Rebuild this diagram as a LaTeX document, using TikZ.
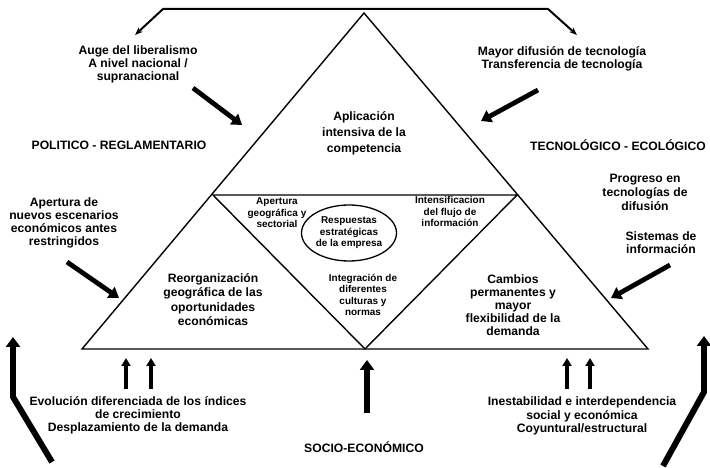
\documentclass[tikz,border=0pt]{standalone}
\usepackage{fontspec}
\setmainfont{Liberation Sans}
\usetikzlibrary{arrows.meta,shapes.geometric}

\tikzset{
  lbl/.style={font=\bfseries\fontsize{12.2}{13.2}\selectfont, align=center, inner sep=0pt},
  heading/.style={font=\bfseries\fontsize{12.2}{13}\selectfont, inner sep=0pt},
  smalllbl/.style={font=\bfseries\fontsize{10}{11.5}\selectfont, align=center, inner sep=0pt},
  tri/.style={line width=1.4pt, line join=miter},
  fat/.style={line width=4.8pt, -{Triangle[length=10pt,width=13pt]}},
  slim/.style={line width=3.5pt, -{Triangle[length=8pt,width=9pt]}},
  bigarrow/.style={line width=6pt, line join=miter, -{Triangle[length=10pt,width=14pt]}},
  link/.style={line width=2pt, {Stealth[length=8pt,width=6pt]}-{Stealth[length=8pt,width=6pt]}}
}

\begin{document}
\begin{tikzpicture}[x=1bp,y=-1bp]
\useasboundingbox (0,0) rectangle (710,468);

% triangles
\coordinate (A) at (364,13);
\coordinate (BL) at (82,349);
\coordinate (BR) at (648,349);
\coordinate (IL) at (213,195);
\coordinate (IR) at (517,195);
\coordinate (IB) at (365,349);
\draw[tri] (A) -- (BL) -- (BR) -- cycle;
\draw[tri] (IL) -- (IR) -- (IB) -- cycle;

% top link
\coordinate (TL) at (135,35);
\coordinate (T1) at (163,9);
\coordinate (T2) at (548,9);
\coordinate (TR) at (577,35);
\draw[link] (TL) -- (T1) -- (T2) -- (TR);

% outer labels
\node[lbl] (auge) at (138,64.5) {Auge del liberalismo\\A nivel nacional /\\supranacional};
\node[lbl] (mayor) at (562,59) {Mayor difusión de tecnología\\Transferencia de tecnología};
\node[heading] (politico) at (119,145) {POLITICO - REGLAMENTARIO};
\node[heading] (tecno) at (618,145) {TECNOLÓGICO - ECOLÓGICO};
\node[lbl] (apertura) at (64,223) {Apertura de\\nuevos escenarios\\económicos antes\\restringidos};
\node[lbl, font=\bfseries\fontsize{12.2}{14}\selectfont] (progreso) at (645,192) {Progreso en\\tecnologías de\\difusión};
\node[lbl] (sistemas) at (661,243) {Sistemas de\\información};
\node[lbl] (evol) at (138,415) {Evolución diferenciada de los índices\\de crecimiento\\Desplazamiento de la demanda};
\node[lbl] (inest) at (582,416) {Inestabilidad e interdependencia\\social y económica\\Coyuntural/estructural};
\node[heading] (socio) at (364,447) {SOCIO-ECONÓMICO};

% triangle labels
\node[lbl, font=\bfseries\fontsize{12.2}{16}\selectfont] (aplic) at (364,133) {Aplicación\\intensiva de la\\competencia};
\node[lbl, font=\bfseries\fontsize{12.2}{14.3}\selectfont] (reorg) at (213,299.5) {Reorganización\\geográfica de las\\oportunidades\\económicas};
\node[lbl] (cambios) at (513,305) {Cambios\\permanentes y\\mayor\\flexibilidad de la\\demanda};
\node[smalllbl] (geog) at (277,213) {Apertura\\geográfica y\\sectorial};
\node[smalllbl] (intens) at (450,211.5) {Intensificacion\\del flujo de\\información};
\node[smalllbl, font=\bfseries\fontsize{10}{11.3}\selectfont] (integ) at (363,295) {Integración de\\diferentes\\culturas y\\normas};
\node[smalllbl, draw, line width=1.3pt, ellipse, inner sep=-4pt, minimum width=95bp, minimum height=56bp] (resp) at (349,233) {Respuestas\\estratégicas\\de la empresa};

% arrows towards the triangle
\coordinate (a1s) at (193,88);   \coordinate (a1e) at (242,125);
\coordinate (a2s) at (538,90);   \coordinate (a2e) at (481,121);
\coordinate (a3s) at (67,262);   \coordinate (a3e) at (119,298);
\coordinate (a4s) at (670,265);  \coordinate (a4e) at (611,298);
\draw[fat] (a1s) -- (a1e);
\draw[fat] (a2s) -- (a2e);
\draw[fat] (a3s) -- (a3e);
\draw[fat] (a4s) -- (a4e);

% small upward arrows
\foreach \x [count=\i] in {126,151,567,590} {
  \coordinate (u\i s) at (\x,389);
  \coordinate (u\i e) at (\x,358);
  \draw[slim] (u\i s) -- (u\i e);
}
\coordinate (ms) at (367,413);
\coordinate (me) at (367,360);
\draw[bigarrow] (ms) -- (me);

% big bent arrows
\coordinate (L0) at (52,462);
\coordinate (L1) at (13,397);
\coordinate (L2) at (13,337);
\draw[bigarrow] (L0) -- (L1) -- (L2);
\coordinate (R0) at (663,466);
\coordinate (R1) at (704,392);
\coordinate (R2) at (704,336);
\draw[bigarrow] (R0) -- (R1) -- (R2);
\end{tikzpicture}
\end{document}
